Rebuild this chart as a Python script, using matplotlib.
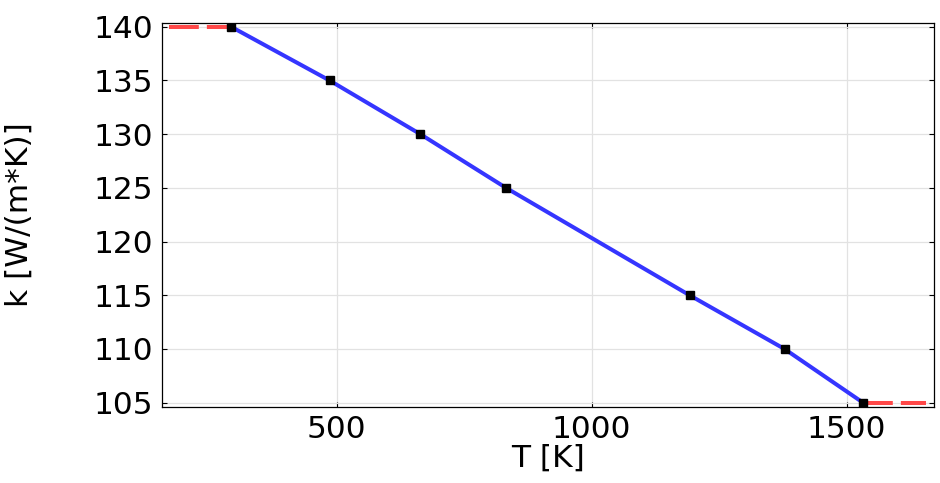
import matplotlib
matplotlib.use("Agg")
import matplotlib.pyplot as plt

T = [293, 486, 664, 832, 1192, 1378, 1532]
k = [140, 135, 130, 125, 115, 110, 105]
T_left = [171, 293]
k_left = [140, 140]
T_right = [1532, 1655]
k_right = [105, 105]
xticks = [500, 1000, 1500]
yticks = [105, 110, 115, 120, 125, 130, 135, 140]

plt.rcParams['font.family'] = ['DejaVu Sans']
fig = plt.figure(figsize=(9.4, 4.83), dpi=100)
ax = fig.add_axes([162/940, 1-407/483, (934-162)/940, (407-23)/483])

red = '#ff4848'
blue = '#3535ff'
ax.plot(T_left, k_left, color=red, lw=2.9, dashes=(7.4, 2.0), solid_capstyle='butt', zorder=3)
ax.plot(T_right, k_right, color=red, lw=2.9, dashes=(7.4, 2.0), solid_capstyle='butt', zorder=3)
ax.plot(T, k, color=blue, lw=2.9, zorder=3)
ax.plot(T, k, ls='none', marker='s', ms=5.6, color='black', zorder=4)

ax.set_xlim(157.5, 1671)
ax.set_ylim(104.6, 140.35)
ax.set_xticks(xticks)
ax.set_yticks(yticks)
ax.grid(True, color='#e2e2e2', lw=0.9)
ax.set_axisbelow(True)
ax.tick_params(direction='in', top=True, right=True, length=3.6, width=0.8,
               labelsize=22.5, pad=6)
for s in ax.spines.values():
    s.set_linewidth(0.9)

ax.set_xlabel('T [K]', fontsize=22.5, va='top')
ax.xaxis.set_label_coords(0.5, -0.095)
ax.set_ylabel('k [W/(m*K)]', fontsize=22.5)
ax.yaxis.set_label_coords(-0.166, 0.5)

fig.savefig('out.png', dpi=100)
